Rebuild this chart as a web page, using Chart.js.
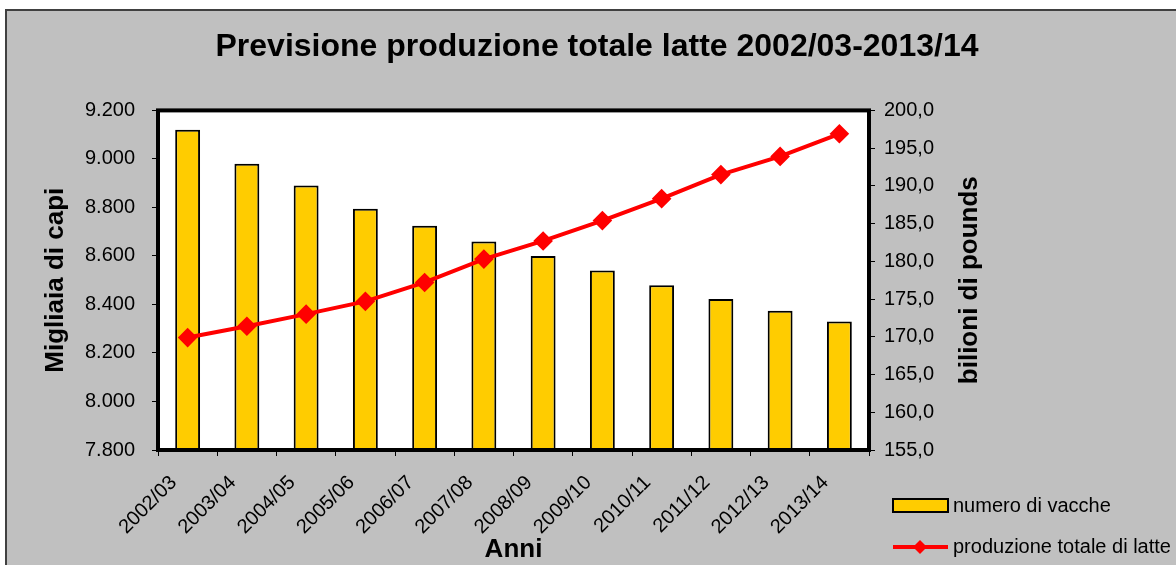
<!DOCTYPE html>
<html>
<head>
<meta charset="utf-8">
<script src="https://cdn.jsdelivr.net/npm/chart.js@4.4.0/dist/chart.umd.min.js"></script>
<style>
  html, body { margin: 0; padding: 0; background: #fff; overflow: hidden; }
  #frame { position: absolute; left: 5px; top: 9px; width: 1200px; height: 600px;
           background: #c0c0c0; border-left: 2px solid #404040; border-top: 2px solid #404040; }
  #wrap { position: absolute; left: 0; top: 0; width: 1176px; height: 565px; }
</style>
</head>
<body>
<div id="frame"></div>
<div id="wrap"><canvas id="chart"></canvas></div>
<script>
// data
const years = ['2002/03', '2003/04', '2004/05', '2005/06', '2006/07', '2007/08',
               '2008/09', '2009/10', '2010/11', '2011/12', '2012/13', '2013/14'];
const vacche = [9120, 8980, 8890, 8795, 8724, 8660, 8600, 8540, 8479, 8423, 8374, 8330];
const latte = [169.9, 171.4, 173.0, 174.7, 177.2, 180.3, 182.7, 185.4, 188.3, 191.5, 193.9, 196.9];
const leftTicks = ['7.800', '8.000', '8.200', '8.400', '8.600', '8.800', '9.000', '9.200'];
const rightTicks = ['155,0', '160,0', '165,0', '170,0', '175,0', '180,0', '185,0', '190,0', '195,0', '200,0'];

Chart.defaults.font.family = "'Liberation Sans', Arial, sans-serif";
Chart.defaults.color = '#000';

// white plot area + thick black frame
const plotFrame = {
  id: 'plotFrame',
  beforeDraw(chart) {
    const a = chart.chartArea, ctx = chart.ctx;
    ctx.save();
    ctx.fillStyle = '#fff';
    ctx.fillRect(a.left, a.top, a.right - a.left, a.bottom - a.top);
    ctx.restore();
  },
  afterDatasetsDraw(chart) {
    const a = chart.chartArea, ctx = chart.ctx;
    ctx.save();
    ctx.strokeStyle = '#000';
    ctx.lineWidth = 4;
    ctx.strokeRect(a.left, a.top, a.right - a.left, a.bottom - a.top);
    ctx.restore();
  }
};

// right axis title (reads bottom to top) and the legend
const extras = {
  id: 'extras',
  afterDraw(chart) {
    const ctx = chart.ctx, a = chart.chartArea;
    const ds = chart.data.datasets;
    ctx.save();
    ctx.fillStyle = '#000';
    ctx.font = "bold 26px 'Liberation Sans', Arial, sans-serif";
    ctx.textAlign = 'center';
    ctx.textBaseline = 'middle';
    ctx.translate(970, (a.top + a.bottom) / 2);
    ctx.rotate(-Math.PI / 2);
    ctx.fillText('bilioni di pounds', 0, 0);
    ctx.restore();

    ctx.save();
    ctx.font = "20px 'Liberation Sans', Arial, sans-serif";
    ctx.textBaseline = 'middle';
    ctx.textAlign = 'left';
    // bar item
    ctx.fillStyle = ds[0].backgroundColor;
    ctx.fillRect(893, 499, 55, 13);
    ctx.strokeStyle = '#000';
    ctx.lineWidth = 2;
    ctx.strokeRect(893, 499, 55, 13);
    ctx.fillStyle = '#000';
    ctx.fillText(ds[0].label, 953, 506);
    // line item
    ctx.strokeStyle = ds[1].borderColor;
    ctx.lineWidth = 4;
    ctx.beginPath();
    ctx.moveTo(893, 547);
    ctx.lineTo(948, 547);
    ctx.stroke();
    ctx.fillStyle = ds[1].borderColor;
    ctx.beginPath();
    ctx.moveTo(920, 540); ctx.lineTo(927, 547); ctx.lineTo(920, 554); ctx.lineTo(913, 547);
    ctx.closePath();
    ctx.fill();
    ctx.fillStyle = '#000';
    ctx.fillText(ds[1].label, 953, 547);
    ctx.restore();
  }
};

const ctx = document.getElementById('chart').getContext('2d');
new Chart(ctx, {
  type: 'bar',
  data: {
    labels: years,
    datasets: [{
      type: 'bar',
      label: 'numero di vacche',
      data: vacche,
      yAxisID: 'y',
      backgroundColor: '#ffcc00',
      borderColor: '#000',
      borderWidth: 2,
      barPercentage: 0.42,
      categoryPercentage: 1,
      order: 1
    }, {
      type: 'line',
      label: 'produzione totale di latte',
      data: latte,
      yAxisID: 'y1',
      borderColor: '#ff0000',
      backgroundColor: '#ff0000',
      borderWidth: 4,
      pointStyle: 'rectRot',
      pointRadius: 7,
      pointBackgroundColor: '#ff0000',
      pointBorderColor: '#ff0000',
      tension: 0,
      order: 0
    }]
  },
  options: {
    responsive: true,
    maintainAspectRatio: false,
    animation: false,
    layout: { autoPadding: false, padding: { left: 18, right: 0, top: 0, bottom: 0 } },
    plugins: {
      legend: { display: false },
      tooltip: { enabled: false },
      title: {
        display: true,
        text: 'Previsione produzione totale latte 2002/03-2013/14',
        font: { size: 32, weight: 'bold' },
        color: '#000',
        padding: { top: 28, bottom: 44 }
      }
    },
    scales: {
      x: {
        grid: { drawOnChartArea: false, color: '#000', tickLength: 6 },
        border: { display: false },
        ticks: { font: { size: 20 }, minRotation: 45, maxRotation: 45, padding: 15, labelOffset: -14, autoSkip: false },
        title: { display: true, text: 'Anni', font: { size: 26, weight: 'bold' }, padding: { top: 1, bottom: 0 } },
        afterFit: (s) => { s.height = 115; }
      },
      y: {
        position: 'left',
        min: 7800, max: 9200,
        grid: { drawOnChartArea: false, color: '#000', tickLength: 6 },
        border: { display: false },
        ticks: { stepSize: 200, font: { size: 20 }, padding: 17,
                 callback: (v, i) => leftTicks[i] },
        title: { display: true, text: 'Migliaia di capi', font: { size: 26, weight: 'bold' }, padding: { top: 22, bottom: 0 } },
        afterFit: (s) => { s.width = 140; }
      },
      y1: {
        position: 'right',
        min: 155, max: 200,
        grid: { drawOnChartArea: false, color: '#000', tickLength: 6 },
        border: { display: false },
        ticks: { stepSize: 5, font: { size: 20 }, padding: 9,
                 callback: (v, i) => rightTicks[i] },
        afterFit: (s) => { s.width = 307; }
      }
    }
  },
  plugins: [plotFrame, extras]
});
</script>
</body>
</html>
